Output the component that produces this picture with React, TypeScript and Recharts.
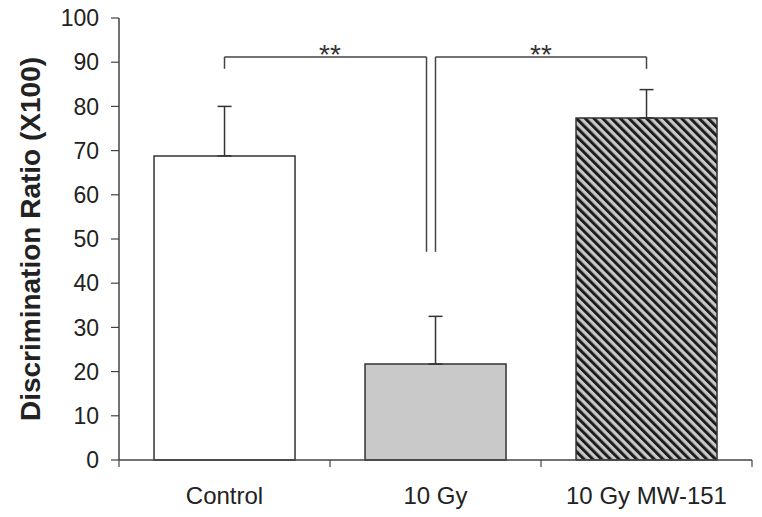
import { BarChart, Bar, XAxis, YAxis, Cell, ErrorBar, ReferenceLine } from "recharts";

// discrimination ratio per group, with upper error (SEM)
const categories = ["Control", "10 Gy", "10 Gy MW-151"];
const means = [68.8, 21.7, 77.4];
const errors = [11.2, 10.8, 6.4];
const fills = ["#ffffff", "#c9c9c9", "url(#hatch)"];
const yTicks = [0, 10, 20, 30, 40, 50, 60, 70, 80, 90, 100];

// significance brackets
const bracketTop = 91.2;
const outerLegEnd = 88.5;
const middleLegEnd = 47.1;
const stars = "**";

const data = categories.map((name, i) => ({ name, value: means[i], err: [0, errors[i]] }));

const INK = "#222";
const LINE = "#444";
const FONT = "'Liberation Sans', Arial, sans-serif";

function CatTick(props: any) {
  const { x, y, payload, index } = props;
  const half = payload?.offset ?? 105.5;
  return (
    <g>
      {index === 0 && <line x1={x - half} y1={y} x2={x - half} y2={y + 7} stroke={LINE} strokeWidth={1.2} />}
      <line x1={x + half} y1={y} x2={x + half} y2={y + 7} stroke={LINE} strokeWidth={1.2} />
      <text x={x} y={y + 35} textAnchor="middle" dominantBaseline="central" fontSize={24} fill={INK} fontFamily={FONT}>
        {payload.value}
      </text>
    </g>
  );
}

const seg = (dx1: number, dx2: number) => (p: any) => (
  <line x1={p.x1 + dx1} y1={p.y1} x2={p.x2 + dx2} y2={p.y2} stroke={LINE} strokeWidth={1.5} />
);

const starLabel = { value: stars, position: "top" as const, offset: -7, fontSize: 28, fill: "#333", fontFamily: FONT };

export default function App() {
  return (
    <div style={{ position: "absolute", left: 0, top: 0, background: "#fff", fontFamily: FONT }}>
      <BarChart width={762} height={517} data={data} margin={{ top: 18, right: 10, bottom: 7, left: 0 }} barCategoryGap="16.6%">
        <defs>
          <pattern id="hatch" width="6.2" height="6.2" patternUnits="userSpaceOnUse" patternTransform="rotate(-45)">
            <rect width="6.2" height="6.2" fill="#c9c9c9" />
            <line x1="1.5" y1="0" x2="1.5" y2="6.2" stroke="#1c1c1c" strokeWidth="3" />
          </pattern>
        </defs>
        <XAxis
          dataKey="name" height={50} axisLine={{ stroke: LINE, strokeWidth: 1.5 }}
          tickLine={false} tickSize={0} tickMargin={0} tick={<CatTick />} interval={0}
        />
        <YAxis
          width={119} domain={[0, 100]} ticks={yTicks} interval={0}
          axisLine={{ stroke: LINE, strokeWidth: 1.5 }} tickLine={{ stroke: LINE, strokeWidth: 1.2 }}
          tickSize={8} tickMargin={12} tick={{ fontSize: 23, fill: INK, fontFamily: FONT }}
          label={{
            content: ({ viewBox }: any) => {
              const cx = 30;
              const cy = viewBox.y + viewBox.height / 2;
              return (
                <text x={cx} y={cy} transform={`rotate(-90, ${cx}, ${cy})`} textAnchor="middle" dominantBaseline="central"
                  fontSize={28} fontWeight="bold" fill={INK} fontFamily={FONT}>
                  Discrimination Ratio (X100)
                </text>
              );
            },
          }}
        />
        <Bar dataKey="value" stroke="#333" strokeWidth={1.5} isAnimationActive={false}>
          {data.map((d, i) => <Cell key={d.name} fill={fills[i]} />)}
          <ErrorBar dataKey="err" width={7} stroke="#333" strokeWidth={1.5} isAnimationActive={false} />
        </Bar>
        {/* Control vs 10 Gy */}
        <ReferenceLine segment={[{ x: categories[0], y: outerLegEnd }, { x: categories[0], y: bracketTop }]} shape={seg(0, 0)} />
        <ReferenceLine segment={[{ x: categories[0], y: bracketTop }, { x: categories[1], y: bracketTop }]} shape={seg(0, -9)} label={starLabel} />
        <ReferenceLine segment={[{ x: categories[1], y: middleLegEnd }, { x: categories[1], y: bracketTop }]} shape={seg(-9, -9)} />
        {/* 10 Gy vs 10 Gy MW-151 */}
        <ReferenceLine segment={[{ x: categories[1], y: middleLegEnd }, { x: categories[1], y: bracketTop }]} shape={seg(0, 0)} />
        <ReferenceLine segment={[{ x: categories[1], y: bracketTop }, { x: categories[2], y: bracketTop }]} shape={seg(0, 0)} label={starLabel} />
        <ReferenceLine segment={[{ x: categories[2], y: outerLegEnd }, { x: categories[2], y: bracketTop }]} shape={seg(0, 0)} />
      </BarChart>
    </div>
  );
}
